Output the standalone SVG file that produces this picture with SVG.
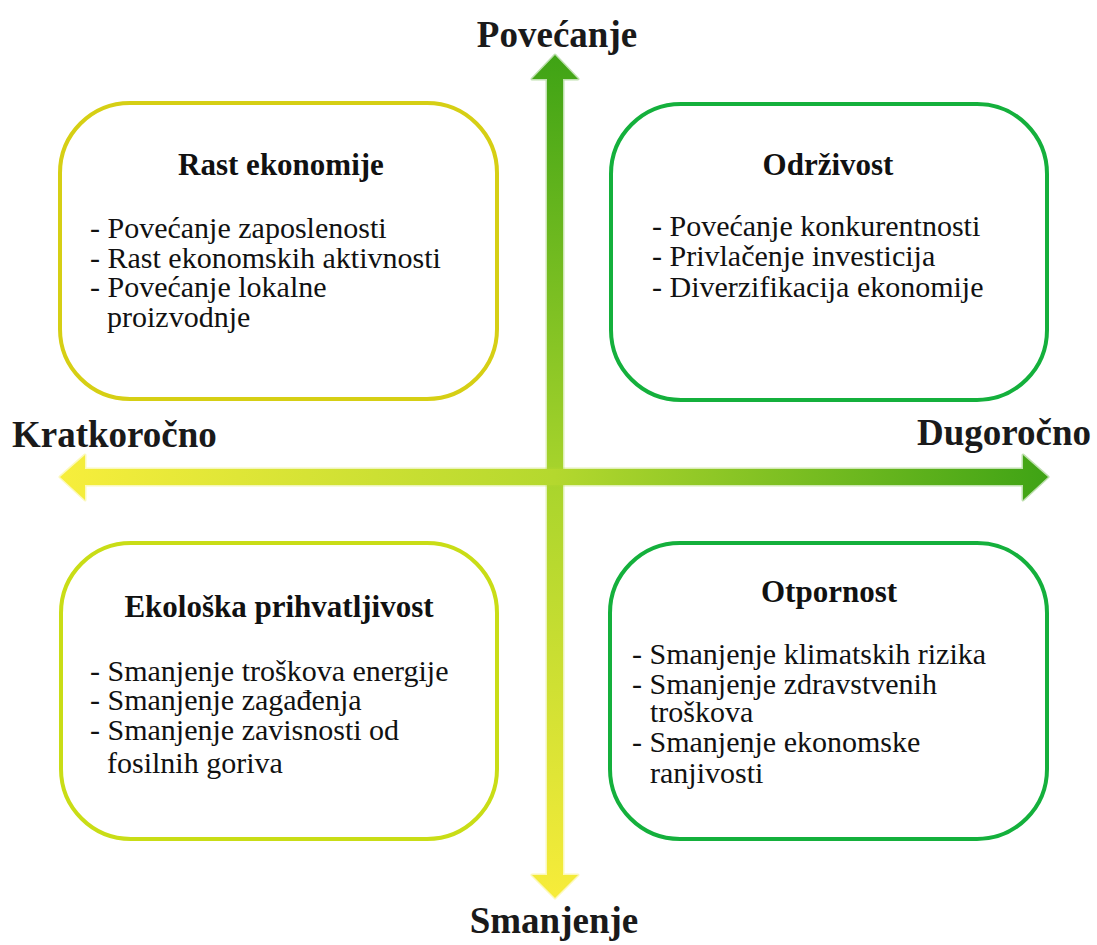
<svg xmlns="http://www.w3.org/2000/svg" width="1097" height="945" viewBox="0 0 1097 945">
<defs>
<linearGradient id="gv" x1="0" y1="55" x2="0" y2="898" gradientUnits="userSpaceOnUse">
<stop offset="0" stop-color="#3fa315"/>
<stop offset="0.5" stop-color="#a8d42c"/>
<stop offset="1" stop-color="#f7ec3a"/>
</linearGradient>
<linearGradient id="gh" x1="60" y1="0" x2="1048" y2="0" gradientUnits="userSpaceOnUse">
<stop offset="0" stop-color="#f7ee3c"/>
<stop offset="0.5" stop-color="#b4d82e"/>
<stop offset="1" stop-color="#3fa315"/>
</linearGradient>
<style>
.box{fill:#fff;stroke-width:4}
.y1{stroke:#d6cf14}
.y2{stroke:#c9dd16}
.g{stroke:#14b03c}
text{font-family:'Liberation Serif','Times New Roman',serif;fill:#111}
.t{font-weight:bold;font-size:31px;text-anchor:middle}
.i{font-size:30px}
.ax{font-weight:bold;font-size:37px;fill:#1a1a1a}
.arr{stroke-width:3;stroke-opacity:0.35;stroke-linejoin:round}
</style>
</defs>
<g id="node-rast">
<rect class="box y1" x="60" y="103" width="437" height="296" rx="70"/>
<text class="t" x="281" y="175">Rast ekonomije</text>
<text class="i" x="90" y="238">- Povećanje zaposlenosti</text>
<text class="i" x="90" y="268">- Rast ekonomskih aktivnosti</text>
<text class="i" x="90" y="297">- Povećanje lokalne</text>
<text class="i" x="107" y="327">proizvodnje</text>
</g>
<g id="node-odrzivost">
<rect class="box g" x="611" y="104" width="436" height="296" rx="70"/>
<text class="t" x="828" y="175">Održivost</text>
<text class="i" x="652" y="236">- Povećanje konkurentnosti</text>
<text class="i" x="652" y="266">- Privlačenje investicija</text>
<text class="i" x="652" y="297">- Diverzifikacija ekonomije</text>
</g>
<g id="node-ekoloska">
<rect class="box y2" x="61" y="543" width="436" height="296" rx="70"/>
<text class="t" x="279" y="617">Ekološka prihvatljivost</text>
<text class="i" x="90" y="681">- Smanjenje troškova energije</text>
<text class="i" x="90" y="710">- Smanjenje zagađenja</text>
<text class="i" x="90" y="740">- Smanjenje zavisnosti od</text>
<text class="i" x="107" y="773">fosilnih goriva</text>
</g>
<g id="node-otpornost">
<rect class="box g" x="610" y="543" width="437" height="296" rx="70"/>
<text class="t" x="829" y="602">Otpornost</text>
<text class="i" x="632" y="664">- Smanjenje klimatskih rizika</text>
<text class="i" x="632" y="694">- Smanjenje zdravstvenih</text>
<text class="i" x="650" y="722">troškova</text>
<text class="i" x="632" y="752">- Smanjenje ekonomske</text>
<text class="i" x="650" y="783">ranjivosti</text>
</g>
<g id="connectors">
<path class="arr" fill="url(#gv)" stroke="url(#gv)" d="M555 55 L578 79 L563 79 L563 875 L578 875 L555 898 L532 875 L547 875 L547 79 L532 79 Z"/>
<path class="arr" fill="url(#gh)" stroke="url(#gh)" d="M60 477 L85 455 L85 469 L1023 469 L1023 455 L1048 477 L1023 500 L1023 485 L85 485 L85 500 Z"/>
</g>
<g id="labels">
<text class="ax" x="557" y="47" text-anchor="middle">Povećanje</text>
<text class="ax" x="12" y="447" font-size="38px">Kratkoročno</text>
<text class="ax" x="917" y="445">Dugoročno</text>
<text class="ax" x="554" y="933" text-anchor="middle" font-size="34px">Smanjenje</text>
</g>
</svg>
